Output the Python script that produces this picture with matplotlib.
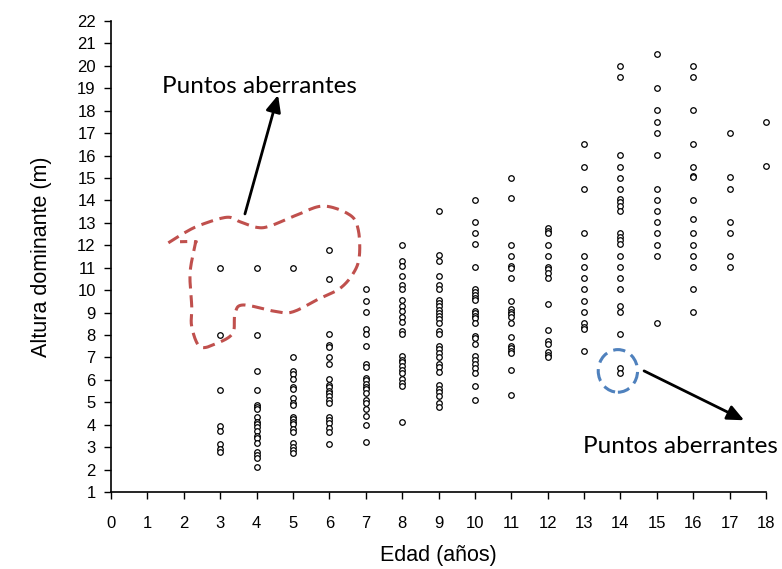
import numpy as np
import matplotlib
matplotlib.use("Agg")
import matplotlib.pyplot as plt
from matplotlib.patches import Ellipse

# ---- data: dominant height (m) per age (years) ----
edades = [3, 4, 5, 6, 7, 8, 9, 10, 11, 12, 13, 14, 15, 16, 17, 18]
h3 = [11, 8, 5.55, 3.95, 3.7, 3.15, 2.9, 2.8]
h4 = [11, 8, 6.38, 5.53, 4.89, 4.8, 4.7, 4.33, 4.13, 4.03, 3.91, 3.7, 3.5,
      3.39, 3.2, 2.77, 2.65, 2.5, 2.13]
h5 = [11, 7.03, 6.38, 6.25, 6.04, 5.7, 5.6, 5.2, 4.95, 4.87, 4.36, 4.25, 4.1,
      4.02, 3.8, 3.66, 3.17, 3.02, 2.87, 2.73]
h6 = [11.78, 10.51, 8.03, 7.55, 7.45, 7.03, 6.72, 6.04, 5.77, 5.7, 5.52, 5.4,
      5.3, 5.1, 4.95, 4.33, 4.21, 4.06, 3.87, 3.69, 3.15]
h7 = [10.04, 9.53, 9.04, 8.28, 8.03, 7.52, 6.73, 6.59, 6.1, 5.98, 5.83, 5.68,
      5.6, 5.4, 5.1, 4.95, 4.7, 4.39, 3.99, 3.24]
h8 = [12.03, 11.3, 11.1, 10.63, 10.25, 10.04, 9.55, 9.3, 9.05, 8.8, 8.6, 8.2,
      8.05, 7.05, 6.9, 6.78, 6.62, 6.45, 6.29, 6.05, 5.87, 5.74, 4.13]
h9 = [13.53, 11.55, 11.3, 10.63, 10.23, 10.05, 9.55, 9.42, 9.3, 9.1, 8.97,
      8.85, 8.7, 8.55, 8.2, 8.04, 7.52, 7.38, 7.2, 7.03, 6.73, 6.59, 6.34,
      5.75, 5.6, 5.44, 5.29, 4.95, 4.8]
h10 = [14.02, 13.02, 12.53, 12.04, 11.02, 10.05, 9.9, 9.78, 9.66, 9.56, 9.07,
       8.97, 8.86, 8.74, 8.52, 7.97, 7.85, 7.6, 7.08, 6.88, 6.71, 6.51, 6.32,
       5.73, 5.1]
h11 = [15.02, 14.12, 12.02, 11.53, 11.1, 11.01, 10.53, 9.53, 9.16, 9.04, 8.93,
       8.82, 8.52, 7.92, 7.5, 7.4, 7.3, 7.22, 6.44, 5.32]
h12 = [12.79, 12.63, 12.53, 12.01, 11.52, 11.04, 10.93, 10.75, 10.53, 9.37,
       8.22, 7.75, 7.6, 7.23, 7.11, 7.01]
h13 = [16.51, 15.5, 14.51, 12.53, 11.52, 11.02, 10.53, 10.04, 9.52, 9.01,
       8.52, 8.37, 8.27, 7.28]
h14 = [20.01, 19.52, 16.02, 15.5, 15.01, 14.51, 14.06, 13.91, 13.76, 13.53,
       12.53, 12.38, 12.23, 12.04, 11.52, 11.02, 10.53, 10.04, 9.29, 9.01,
       8.03, 6.54, 6.29]
h15 = [20.53, 19.01, 18.02, 17.51, 17.02, 16.02, 14.51, 14.02, 13.53, 13.02,
       12.53, 12.01, 11.52, 8.52]
h16 = [20.01, 19.52, 18.02, 16.51, 15.5, 15.1, 15.03, 14.02, 13.17, 12.53,
       12.01, 11.52, 11.02, 10.04, 9.01]
h17 = [17.02, 15.03, 14.51, 13.02, 12.53, 11.52, 11.02]
h18 = [17.51, 15.53]
alturas = [h3, h4, h5, h6, h7, h8, h9, h10, h11, h12, h13, h14, h15, h16, h17, h18]

x_ticks = list(range(0, 19))
y_ticks = list(range(1, 23))
x_label = "Edad (años)"
y_label = "Altura dominante (m)"
note_text = "Puntos aberrantes"

# outline (hand-drawn style) around the upper outliers, in data units
blob_x = [1.575, 1.987, 2.446, 3.179, 3.545, 4.004, 4.369, 5.103, 5.834, 6.568,
          6.796, 6.823, 6.658, 6.293, 5.743, 5.010, 4.553, 3.636, 3.408, 3.344,
          2.905, 2.446, 2.218, 2.218, 2.171, 2.308, 2.308, 1.896]
blob_y = [12.11, 12.53, 12.90, 13.25, 13.05, 12.80, 12.86, 13.35, 13.75, 13.35,
          12.68, 11.49, 10.75, 10.08, 9.64, 9.04, 9.04, 9.34, 8.97, 8.08,
          7.63, 7.48, 8.37, 9.26, 10.75, 12.01, 12.16, 12.16]


def catmull(xs, ys, n=12):
    p = np.column_stack([xs, ys])
    p = np.vstack([p[0], p, p[-1]])
    out = []
    for i in range(1, len(p) - 2):
        p0, p1, p2, p3 = p[i - 1], p[i], p[i + 1], p[i + 2]
        t = np.linspace(0, 1, n, endpoint=False)[:, None]
        out.append(0.5 * ((2 * p1) + (-p0 + p2) * t + (2 * p0 - 5 * p1 + 4 * p2 - p3) * t ** 2
                          + (-p0 + 3 * p1 - 3 * p2 + p3) * t ** 3))
    out.append(p[-2][None, :])
    out = np.vstack(out)
    return out[:, 0], out[:, 1]


fig = plt.figure(figsize=(7.82, 5.69), dpi=100)
ax = fig.add_axes([0.142, 0.1353, 0.8375, 0.8277])

for e, hs in zip(edades, alturas):
    ax.plot([e] * len(hs), hs, linestyle="none", marker="o", markersize=4,
            markerfacecolor="white", markeredgecolor="black", markeredgewidth=0.9,
            clip_on=False, zorder=3)

ax.set_xlim(0, 18)
ax.set_ylim(1, 22)
ax.set_xticks(x_ticks)
ax.set_yticks(y_ticks)
for s in ("top", "right"):
    ax.spines[s].set_visible(False)
for s in ("left", "bottom"):
    ax.spines[s].set_linewidth(1.2)
ax.tick_params(direction="out", length=5, width=1.0, labelsize=12, colors="black")
ax.tick_params(axis="x", pad=12)
ax.tick_params(axis="y", pad=6)
for lab in ax.get_xticklabels() + ax.get_yticklabels():
    lab.set_fontfamily("Liberation Sans")
ax.set_xlabel(x_label, fontsize=15.5, family="Liberation Sans", labelpad=10)
ax.set_ylabel(y_label, fontsize=15.5, family="Liberation Sans", labelpad=18)

# red outline
bx, by = catmull(blob_x, blob_y)
ax.plot(bx, by, color="#c0504d", lw=2.2, dashes=(4, 2.2), clip_on=False, zorder=2)

# blue outline
ax.add_patch(Ellipse((13.93, 6.4), 1.08, 1.9, fill=False, edgecolor="#4f81bd",
                     lw=2.2, linestyle=(0, (4, 2.2)), clip_on=False, zorder=2))

# arrows and notes
ax.annotate("", xy=(4.59, 18.7), xytext=(3.68, 13.4),
            arrowprops=dict(arrowstyle="-|>,head_length=1.0,head_width=0.45",
                            color="black", lw=2, shrinkA=0, shrinkB=0),
            annotation_clip=False)
ax.annotate("", xy=(17.4, 4.2), xytext=(14.65, 6.4),
            arrowprops=dict(arrowstyle="-|>,head_length=1.0,head_width=0.45",
                            color="black", lw=2, shrinkA=0, shrinkB=0),
            annotation_clip=False)
ax.text(4.07, 19.1, note_text, fontsize=17.5, family="Lato", ha="center", va="center")
ax.text(15.64, 3.05, note_text, fontsize=17.5, family="Lato", ha="center", va="center",
        clip_on=False)

fig.savefig("out.png", dpi=100)
